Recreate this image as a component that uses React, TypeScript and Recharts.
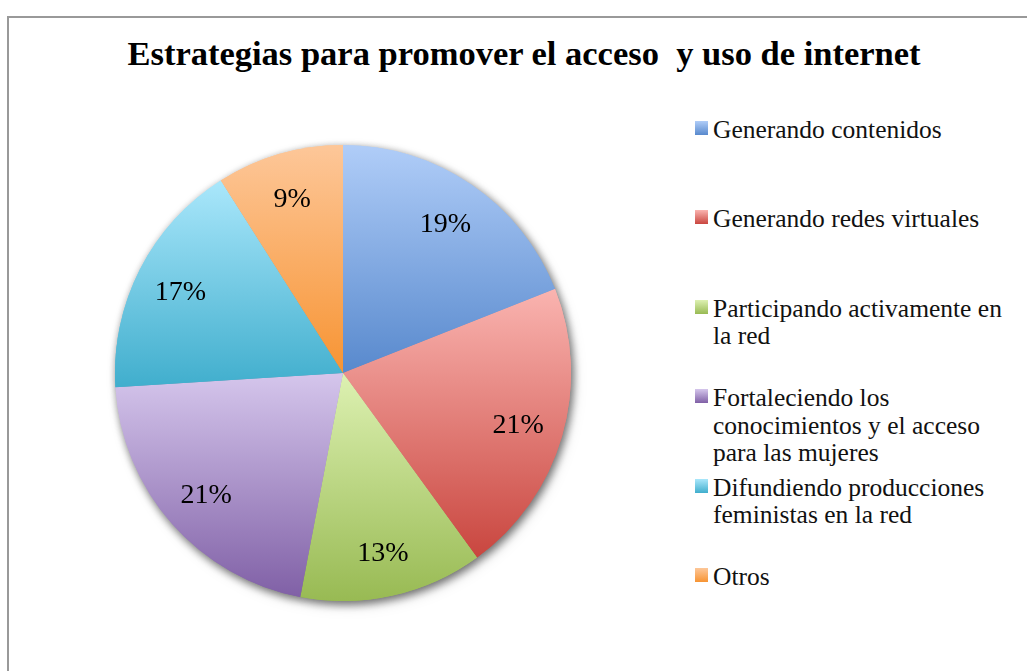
import { PieChart, Pie, Cell, Legend } from 'recharts'

const categories = [
  'Generando contenidos',
  'Generando redes virtuales',
  'Participando activamente en\nla red',
  'Fortaleciendo los\nconocimientos y el acceso\npara las mujeres',
  'Difundiendo producciones\nfeministas en la red',
  'Otros',
]
const percentages = [19, 21, 13, 21, 17, 9]
const lightColors = ['#b0cdf8', '#fab4b0', '#ddf1b2', '#d5c6ec', '#aae7fb', '#fdc799']
const darkColors = ['#5889cd', '#c9463f', '#98ba53', '#8060a6', '#40aecd', '#f79433']

const data = categories.map((name, i) => ({ name, value: percentages[i] }))

const RADIAN = Math.PI / 180

function renderLabel({ cx, cy, midAngle, outerRadius, value }: any) {
  const r = outerRadius * 0.8
  const x = cx + r * Math.cos(-midAngle * RADIAN)
  const y = cy + r * Math.sin(-midAngle * RADIAN)
  return (
    <text
      x={x}
      y={y}
      textAnchor="middle"
      dominantBaseline="central"
      fill="#000"
      style={{ fontFamily: '"Liberation Serif", serif', fontSize: 28 }}
    >
      {value}%
    </text>
  )
}

function renderLegend() {
  return (
    <div style={{ position: 'relative', width: 330, height: 671 }}>
      {categories.map((c, i) => (
        <div key={c} style={{ position: 'absolute', left: 0, top: 116 + i * 89.4, display: 'flex' }}>
          <span
            style={{
              width: 13,
              height: 14,
              marginTop: 5,
              marginRight: 5,
              flex: 'none',
              background: `linear-gradient(${lightColors[i]}, ${darkColors[i]})`,
            }}
          />
          <span
            style={{
              whiteSpace: 'pre-line',
              lineHeight: '27.5px',
              fontSize: 25.5,
              fontFamily: '"Liberation Serif", serif',
              color: '#111',
            }}
          >
            {c}
          </span>
        </div>
      ))}
    </div>
  )
}

export default function App() {
  return (
    <div style={{ position: 'absolute', left: 0, top: 0, width: 1027, height: 671, overflow: 'hidden', background: '#fff' }}>
      <style>{`.pie-shadow { filter: drop-shadow(2px 3px 4px rgba(0,0,0,0.35)); }`}</style>
      <div
        style={{
          position: 'absolute',
          left: 7,
          top: 16,
          right: 0,
          bottom: 0,
          borderLeft: '2px solid #999',
          borderTop: '2px solid #999',
        }}
      />
      <div
        style={{
          position: 'absolute',
          left: 0,
          width: 1048,
          top: 34,
          textAlign: 'center',
          fontFamily: '"Liberation Serif", serif',
          fontWeight: 'bold',
          fontSize: 34.5,
          whiteSpace: 'pre',
        }}
      >
        {'Estrategias para promover el acceso  y uso de internet'}
      </div>
      <div style={{ position: 'absolute', left: 0, top: 0 }}>
        <PieChart width={1027} height={671} margin={{ top: 0, right: 0, bottom: 0, left: 0 }}>
          <defs>
            {lightColors.map((c, i) => (
              <linearGradient key={c} id={`grad${i}`} x1="0" y1="0" x2="0" y2="1">
                <stop offset="0" stopColor={c} />
                <stop offset="1" stopColor={darkColors[i]} />
              </linearGradient>
            ))}
          </defs>
          <Pie
            className="pie-shadow"
            data={data}
            dataKey="value"
            nameKey="name"
            cx={343}
            cy={373}
            outerRadius={228}
            startAngle={90}
            endAngle={-270}
            stroke="none"
            isAnimationActive={false}
            legendType="none"
          >
            {data.map((d, i) => (
              <Cell key={d.name} fill={`url(#grad${i})`} />
            ))}
          </Pie>
          <Pie
            data={data}
            dataKey="value"
            nameKey="name"
            cx={343}
            cy={373}
            outerRadius={228}
            startAngle={90}
            endAngle={-270}
            stroke="none"
            label={renderLabel}
            labelLine={false}
            isAnimationActive={false}
          >
            {data.map((d, i) => (
              <Cell key={d.name} fill={`url(#grad${i})`} />
            ))}
          </Pie>
          <Legend
            content={renderLegend}
            wrapperStyle={{ left: 695, top: 0, width: 330, height: 671 }}
          />
        </PieChart>
      </div>
    </div>
  )
}
